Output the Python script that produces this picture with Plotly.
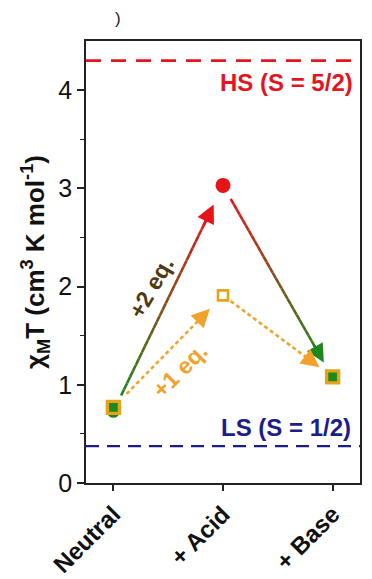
import plotly.graph_objects as go
import numpy as np

# ---- data ----
categories = ["Neutral", "+ Acid", "+ Base"]
x_pos = [0, 1, 2]
two_eq = [0.73, 3.03, 1.07]   # solid gradient path (+2 eq.)
one_eq = [0.77, 1.91, 1.08]   # dashed orange path (+1 eq.)
hs_level = 4.3
ls_level = 0.375
y_ticks = [0, 1, 2, 3, 4]

GREEN = (30, 135, 30)
RED = (230, 20, 25)
ORANGE = "#f2a22a"
NAVY = "#1c1c8c"
HSRED = "#e3161f"

fig = go.Figure()

def lerp(a, b, t):
    return a + (b - a) * t

def rgb(c):
    return "rgb(%d,%d,%d)" % tuple(int(round(v)) for v in c)

def head(p0, p1, t1, col):
    fig.add_annotation(
        x=lerp(p0[0], p1[0], t1), y=lerp(p0[1], p1[1], t1),
        ax=lerp(p0[0], p1[0], t1 - 0.1), ay=lerp(p0[1], p1[1], t1 - 0.1),
        xref="x", yref="y", axref="x", ayref="y", text="",
        font=dict(size=1),
        showarrow=True, arrowhead=2, arrowsize=1.4, arrowwidth=2.6,
        arrowcolor=col, standoff=0)

def grad_arrow(p0, p1, t0, t1, c0, c1, n=30):
    ts = np.linspace(t0, t1 - 0.03, n + 1)
    for i in range(n):
        ta, tb = ts[i], ts[i + 1]
        tm = (i + 0.5) / n
        col = tuple(lerp(c0[k], c1[k], tm) for k in range(3))
        fig.add_trace(go.Scatter(
            x=[lerp(p0[0], p1[0], ta), lerp(p0[0], p1[0], tb)],
            y=[lerp(p0[1], p1[1], ta), lerp(p0[1], p1[1], tb)],
            mode="lines", line=dict(color=rgb(col), width=2.6),
            hoverinfo="skip", showlegend=False))

def dash_arrow(p0, p1, t0, t1, col):
    fig.add_trace(go.Scatter(
        x=[lerp(p0[0], p1[0], t0), lerp(p0[0], p1[0], t1 - 0.05)],
        y=[lerp(p0[1], p1[1], t0), lerp(p0[1], p1[1], t1 - 0.05)],
        mode="lines", line=dict(color=col, width=2.6, dash="4px,3px"),
        hoverinfo="skip", showlegend=False))

# reference levels
fig.add_trace(go.Scatter(x=[-0.25, 2.25], y=[hs_level, hs_level], mode="lines",
                         line=dict(color=HSRED, width=2.8, dash="15px,10px"),
                         hoverinfo="skip", showlegend=False))
fig.add_trace(go.Scatter(x=[-0.25, 2.25], y=[ls_level, ls_level], mode="lines",
                         line=dict(color=NAVY, width=2.4, dash="13px,8px"),
                         hoverinfo="skip", showlegend=False))

# arrows
P = [(x_pos[i], two_eq[i]) for i in range(3)]
Q = [(x_pos[i], one_eq[i]) for i in range(3)]
grad_arrow(P[0], P[1], 0.07, 0.915, GREEN, RED)
grad_arrow(P[1], P[2], 0.07, 0.92, RED, GREEN)
dash_arrow(Q[0], Q[1], 0.12, 0.88, ORANGE)
dash_arrow(Q[1], Q[2], 0.07, 0.88, ORANGE)

# markers
fig.add_trace(go.Scatter(
    x=x_pos, y=two_eq, mode="markers",
    marker=dict(symbol=["circle", "circle", "square"], size=[13, 15, 9],
                opacity=1,
                color=[rgb(GREEN), rgb(RED), rgb(GREEN)], line=dict(width=0)),
    hoverinfo="skip", showlegend=False))
fig.add_trace(go.Scatter(
    x=x_pos, y=one_eq, mode="markers",
    marker=dict(symbol="square", size=[12, 10, 12], opacity=1,
                color=[rgb(GREEN), "white", rgb(GREEN)],
                line=dict(width=[3.4, 2.6, 3.4], color="#e3a418")),
    hoverinfo="skip", showlegend=False))

# arrowheads (drawn as annotations on top)
head(P[0], P[1], 0.915, rgb(RED))
head(P[1], P[2], 0.92, rgb(GREEN))
head(Q[0], Q[1], 0.88, ORANGE)
head(Q[1], Q[2], 0.88, ORANGE)

# labels
fig.add_annotation(x=0.98, y=4.08, xref="paper", yref="y", xanchor="right",
                   text="<b>HS (S = 5/2)</b>", showarrow=False,
                   font=dict(size=24, color=HSRED))
fig.add_annotation(x=0.975, y=0.57, xref="paper", yref="y", xanchor="right",
                   text="<b>LS (S = 1/2)</b>", showarrow=False,
                   font=dict(size=24, color=NAVY))
fig.add_annotation(x=0.34, y=1.99, xref="x", yref="y", text="<b>+2 eq.</b>",
                   showarrow=False, textangle=-60,
                   font=dict(size=23, color="#4f3a12"))
fig.add_annotation(x=0.61, y=1.15, xref="x", yref="y", text="<b>+1 eq.</b>",
                   showarrow=False, textangle=-45,
                   font=dict(size=23, color=ORANGE))
fig.add_annotation(x=0.117, y=1.05, xref="paper", yref="paper", text=")",
                   xanchor="center", yanchor="middle",
                   showarrow=False, font=dict(size=17, color="#222"))

fig.update_layout(
    width=364, height=571,
    margin=dict(l=78, r=12, t=33, b=96, autoexpand=False),
    paper_bgcolor="white", plot_bgcolor="white",
    font=dict(family="Liberation Sans, Arial, sans-serif", color="#111"),
    xaxis=dict(range=[-0.25, 2.25], tickmode="array", tickvals=x_pos,
               ticktext=["<b>%s</b>" % c for c in categories],
               tickangle=-45, tickfont=dict(size=24, color="#111"),
               ticks="outside", ticklen=6, tickwidth=1.5, tickcolor="#222",
               showline=True, linecolor="#222", linewidth=1.6, mirror=True,
               showgrid=False, zeroline=False, automargin=False),
    yaxis=dict(range=[0, 4.5], tickmode="array", tickvals=y_ticks,
               tickfont=dict(size=25, color="#111"),
               ticks="outside", ticklen=7, tickwidth=1.5, tickcolor="#222",
               minor=dict(tickvals=[0.5, 1.5, 2.5, 3.5], ticks="outside",
                          ticklen=4, tickwidth=1.2, tickcolor="#222"),
               showline=True, linecolor="#222", linewidth=1.6, mirror=True,
               showgrid=False, zeroline=False, automargin=False,
               title=dict(text="<b>χ<sub>M</sub>T (cm<sup>3</sup> K mol<sup>-1</sup>)</b>",
                          font=dict(size=26, color="#111"), standoff=6)),
)

fig.write_html("out.html")
